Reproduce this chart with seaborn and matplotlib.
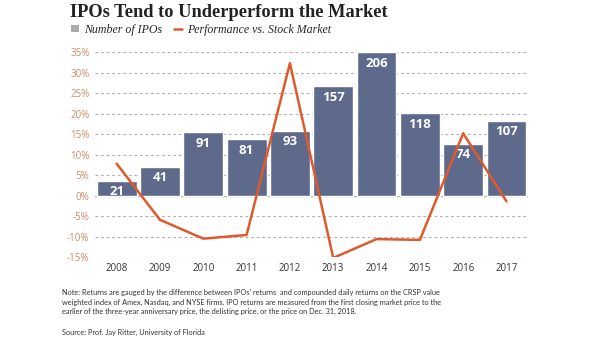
import matplotlib
matplotlib.use("Agg")
import matplotlib.pyplot as plt
import seaborn as sns
import numpy as np
import pandas as pd
from matplotlib.patches import Patch
from matplotlib.lines import Line2D

years = ["2008", "2009", "2010", "2011", "2012", "2013", "2014", "2015", "2016", "2017"]
num_ipos = [21, 41, 91, 81, 93, 157, 206, 118, 74, 107]
performance = [7.8, -5.9, -10.5, -9.6, 32.3, -15.2, -10.6, -10.8, 15.2, -1.4]
pct_ticks = [-15, -10, -5, 0, 5, 10, 15, 20, 25, 30, 35]

title = "IPOs Tend to Underperform the Market"
note = ("Note: Returns are gauged by the difference between IPOs' returns  and compounded daily returns on the CRSP value\n"
        "weighted index of Amex, Nasdaq, and NYSE firms. IPO returns are measured from the first closing market price to the\n"
        "earlier of the three-year anniversary price, the delisting price, or the price on Dec. 31, 2018.")
source = "Source: Prof. Jay Ritter, University of Florida"

df = pd.DataFrame({"year": years, "ipos": num_ipos, "perf": performance})

BAR = "#5e6a8b"
LINE = "#de5a2c"
TICKC = "#d08a66"
GRID = "#b0b0b0"

sns.set_style("white")
fig = plt.figure(figsize=(6.05, 3.41), dpi=100)
ax = fig.add_axes([0.157, 0.246, 0.716, 0.601])

# percent axis (grid)
ax.set_ylim(-15, 35)
ax.set_xlim(-0.5, 9.5)
ax.set_yticks(pct_ticks)
ax.set_yticklabels([f"{t}%" for t in pct_ticks], fontsize=7, color=TICKC, family="Open Sans")
for t in pct_ticks:
    if t != 0:
        ax.axhline(t, color=GRID, lw=0.8, ls=(0, (2.5, 2.5)), zorder=0)
ax.axhline(0, color="#b0b0b0", lw=1.0, zorder=0)
for s in ax.spines.values():
    s.set_visible(False)
ax.tick_params(axis="y", length=0, pad=4)
ax.set_xticks(range(len(years)))
ax.set_xticklabels(years, fontsize=7, color="#333333", family="Open Sans")
ax.set_xticks(np.arange(-0.5, 10, 1), minor=True)
ax.tick_params(axis="x", which="major", length=0, pad=4)
ax.tick_params(axis="x", which="minor", direction="in", length=3, width=0.8, color="#888888")

# bars
ax2 = ax.twinx()
sns.barplot(data=df, x="year", y="ipos", color=BAR, saturation=1, width=0.92, ax=ax2)
ax2.set_ylim(-206 * 15 / 35, 206)
ax2.set_xlim(-0.5, 9.5)
ax2.set_yticks([])
ax2.set_ylabel("")
ax2.set_xlabel("")
for s in ax2.spines.values():
    s.set_visible(False)
ax2.bar_label(ax2.containers[0], labels=[str(v) for v in num_ipos], padding=-12.5,
              color="white", fontsize=9.5, fontweight="bold", family="Open Sans")

# line
ax3 = ax.twinx()
sns.pointplot(data=df, x="year", y="perf", color=LINE, markers="", linestyles="-",
              linewidth=1.8, ax=ax3)
ax3.set_ylim(-15, 35)
ax3.set_xlim(-0.5, 9.5)
ax3.set_yticks([])
ax3.set_ylabel("")
ax3.set_xlabel("")
for s in ax3.spines.values():
    s.set_visible(False)

fig.text(0.115, 0.988, title, fontsize=13.2, fontweight="bold", family="Liberation Serif",
         va="top", ha="left", color="#222222")

handles = [Patch(facecolor="#aaaaaa", edgecolor="none"), Line2D([0], [0], color=LINE, lw=1.8)]
fig.legend(handles, ["Number of IPOs", "Performance vs. Stock Market"], loc="upper left",
           bbox_to_anchor=(0.117, 0.93), ncol=2, frameon=False,
           prop={"family": "Liberation Serif", "style": "italic", "size": 8.6},
           handlelength=0.7, handleheight=0.5, handletextpad=0.4, columnspacing=1.0,
           borderpad=0, borderaxespad=0)

fig.text(0.102, 0.153, note, fontsize=5.35, family="Lato", va="top", ha="left",
         color="#333333", linespacing=1.45)
fig.text(0.102, 0.024, source, fontsize=5.35, family="Lato", va="center", ha="left",
         color="#333333")

fig.savefig("out.png", dpi=100)
